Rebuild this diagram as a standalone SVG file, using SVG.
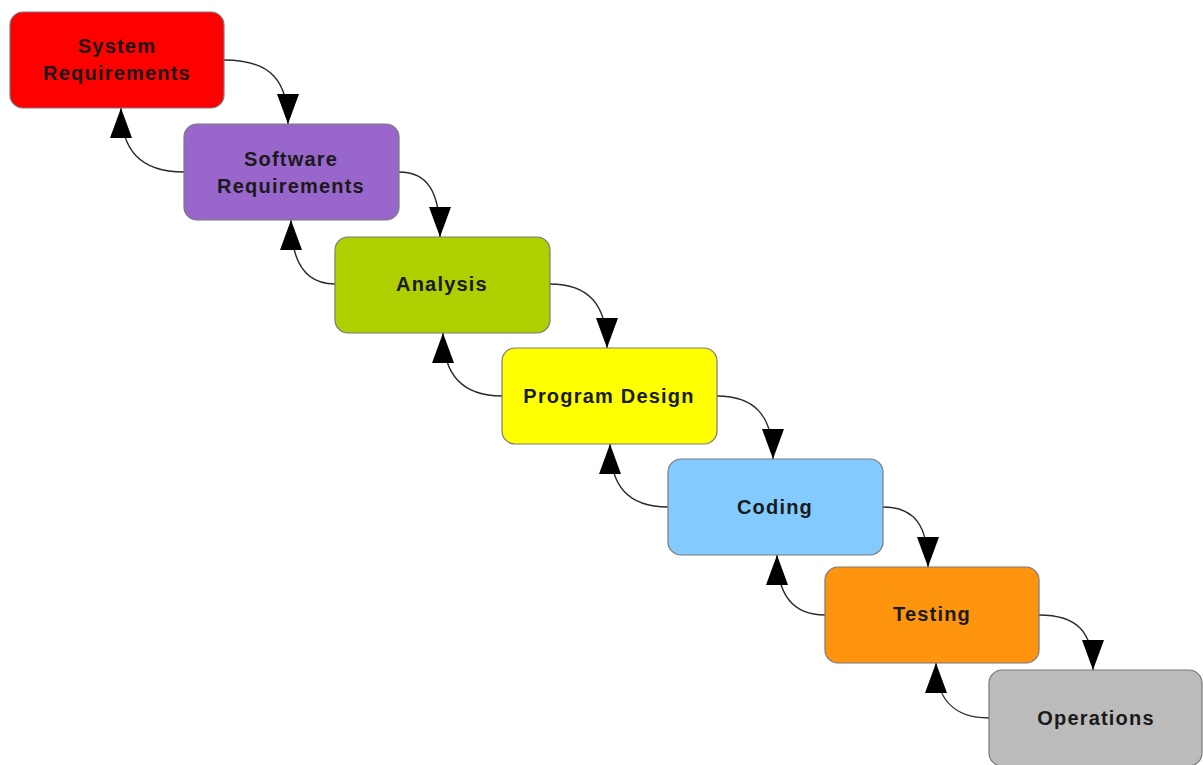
<svg xmlns="http://www.w3.org/2000/svg" width="1203" height="765" viewBox="0 0 1203 765">
<style>
.box{stroke:#7a7a7a;stroke-width:1.2}
.lbl{font-family:"Liberation Sans",Arial,sans-serif;font-weight:bold;font-size:20px;letter-spacing:1.2px;fill:#1a1a1a;text-anchor:middle}
.edge{fill:none;stroke:#2a2a2a;stroke-width:1.4}
</style>
<defs>
<marker id="ah" markerUnits="userSpaceOnUse" markerWidth="32" markerHeight="24" refX="30" refY="11" orient="auto">
<path d="M0,0 L30,11 L0,22 z" fill="#000"/>
</marker>
</defs>
<rect width="1203" height="765" fill="#fff"/>
<g id="connectors">
<path class="edge" marker-end="url(#ah)" d="M224,60 C272,60 288,82 288,124"/>
<path class="edge" marker-end="url(#ah)" d="M399,172 C428,172 440,192 440,237"/>
<path class="edge" marker-end="url(#ah)" d="M550,284 C588,284 607,304 607,348"/>
<path class="edge" marker-end="url(#ah)" d="M717,396 C755,396 773,416 773,459"/>
<path class="edge" marker-end="url(#ah)" d="M883,507 C915,507 928,526 928,567"/>
<path class="edge" marker-end="url(#ah)" d="M1039,615 C1077,615 1093,632 1093,670"/>
<path class="edge" marker-end="url(#ah)" d="M184,172 C140,172 121,150 121,108"/>
<path class="edge" marker-end="url(#ah)" d="M335,284 C305,284 291,262 291,220"/>
<path class="edge" marker-end="url(#ah)" d="M502,396 C462,396 443,374 443,333"/>
<path class="edge" marker-end="url(#ah)" d="M668,507 C628,507 610,486 610,444"/>
<path class="edge" marker-end="url(#ah)" d="M825,615 C793,615 777,595 777,555"/>
<path class="edge" marker-end="url(#ah)" d="M989,718 C955,718 936,700 936,663"/>
</g>
<g id="n1"><rect class="box" x="10" y="12" width="214" height="96" rx="13" fill="#ff0000"/><text class="lbl" x="117" y="53">System</text><text class="lbl" x="117" y="80">Requirements</text></g>
<g id="n2"><rect class="box" x="184" y="124" width="215" height="96" rx="13" fill="#9966cc"/><text class="lbl" x="291" y="166">Software</text><text class="lbl" x="291" y="193">Requirements</text></g>
<g id="n3"><rect class="box" x="335" y="237" width="215" height="96" rx="13" fill="#aecf00"/><text class="lbl" x="442" y="291">Analysis</text></g>
<g id="n4"><rect class="box" x="502" y="348" width="215" height="96" rx="13" fill="#ffff00"/><text class="lbl" x="609" y="403">Program Design</text></g>
<g id="n5"><rect class="box" x="668" y="459" width="215" height="96" rx="13" fill="#83caff"/><text class="lbl" x="775" y="514">Coding</text></g>
<g id="n6"><rect class="box" x="825" y="567" width="214" height="96" rx="13" fill="#ff950e"/><text class="lbl" x="932" y="621">Testing</text></g>
<g id="n7"><rect class="box" x="989" y="670" width="213" height="96" rx="13" fill="#bbbbbb"/><text class="lbl" x="1096" y="725">Operations</text></g>
</svg>
